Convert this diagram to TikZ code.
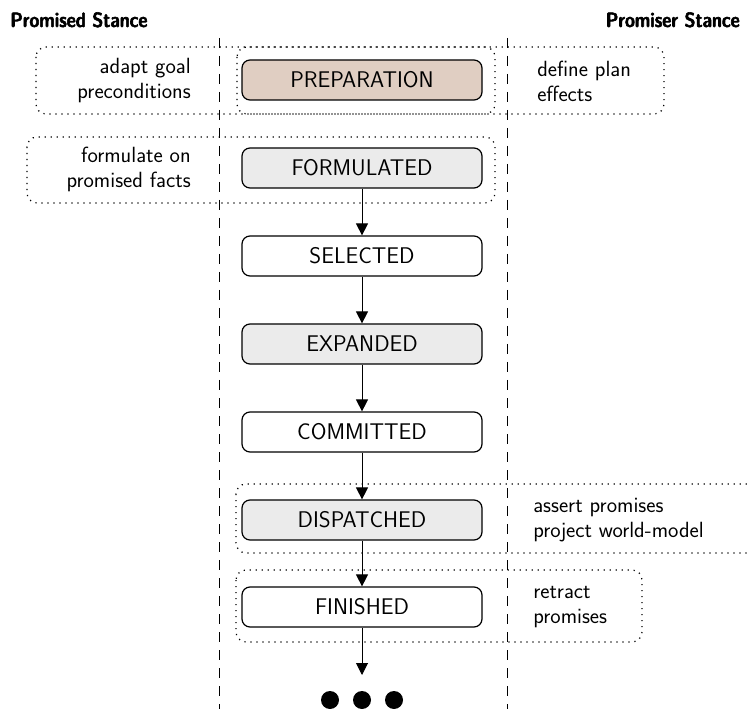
\documentclass[tikz,border=0pt]{standalone}
\usetikzlibrary{arrows.meta}
\definecolor{prepfill}{RGB}{224,206,194}
\definecolor{grayfill}{RGB}{235,235,235}
\newcommand{\fakebold}[1]{\special{pdf:literal direct 2 Tr 0.45 w}#1\special{pdf:literal direct 0 Tr 0 w}}
\begin{document}
\begin{tikzpicture}[x=0.75pt,y=-0.75pt,
  font=\sffamily\fontsize{17}{19}\selectfont,
  head/.style={inner sep=0pt, font=\sffamily\fontseries{sbc}\fontsize{15.5}{18}\selectfont},
  state/.style={draw, line width=0.9pt, rounded corners=6pt, minimum width=180pt, minimum height=30pt, inner sep=0pt},
  side/.style={inner sep=0pt, align=left, font=\sffamily\fontsize{16.5}{18.75}\selectfont},
  sideL/.style={inner sep=0pt, align=right, font=\sffamily\fontsize{16.5}{18.75}\selectfont},
  grp/.style={dash pattern=on 0.9pt off 3.6pt, line width=0.9pt, rounded corners=7.5pt},
  lane/.style={dash pattern=on 7.5pt off 6pt, line width=0.75pt},
  flow/.style={-{Triangle[length=9pt,width=9pt]}, line width=0.75pt},
  dot/.style={circle, fill, inner sep=0pt, minimum size=13.5pt}]
\useasboundingbox (0,0) rectangle (750,709);
% headers
\node[head, anchor=base west] (hl) at (10,27) {\fakebold{Promised Stance}};
\node[head, anchor=base east] (hr) at (740,27) {\fakebold{Promiser Stance}};
% lanes
\coordinate (l1) at (219,38); \coordinate (l2) at (219,709);
\coordinate (r1) at (507,38); \coordinate (r2) at (507,709);
\draw[lane] (l1) -- (l2);
\draw[lane] (r1) -- (r2);
% groups
\draw[grp] (36,47) rectangle (664,114);
\draw[grp] (237,47) rectangle (495,114);
\draw[grp] (27,137) rectangle (495,203);
\draw[grp] (236,484) rectangle (770,553);
\draw[grp] (236,570) rectangle (642,642);
% states
\node[state, fill=prepfill] (prep) at (362,80) {PREPARATION};
\node[state, fill=grayfill] (form) at (362,168) {FORMULATED};
\node[state, fill=white] (sel) at (362,256) {SELECTED};
\node[state, fill=grayfill] (exp) at (362,344) {EXPANDED};
\node[state, fill=white] (comm) at (362,432) {COMMITTED};
\node[state, fill=grayfill] (disp) at (362,520) {DISPATCHED};
\node[state, fill=white] (fin) at (362,607) {FINISHED};
\coordinate (end) at (362,675);
% side texts
\node[sideL, anchor=east] (t1) at (191,81) {adapt goal\\preconditions};
\node[side, anchor=west] (t2) at (537,81) {define plan\\effects};
\node[sideL, anchor=east] (t3) at (191,169) {formulate on\\promised facts};
\node[side, anchor=west] (t4) at (533,520) {assert promises\\project world-model};
\node[side, anchor=west] (t5) at (533,607) {retract\\promises};
% flow
\draw[flow] (form) -- (sel);
\draw[flow] (sel) -- (exp);
\draw[flow] (exp) -- (comm);
\draw[flow] (comm) -- (disp);
\draw[flow] (disp) -- (fin);
\draw[flow] (fin) -- (end);
% dots
\node[dot] (d1) at (330,700) {};
\node[dot] (d2) at (362,700) {};
\node[dot] (d3) at (394,700) {};
\end{tikzpicture}
\end{document}
